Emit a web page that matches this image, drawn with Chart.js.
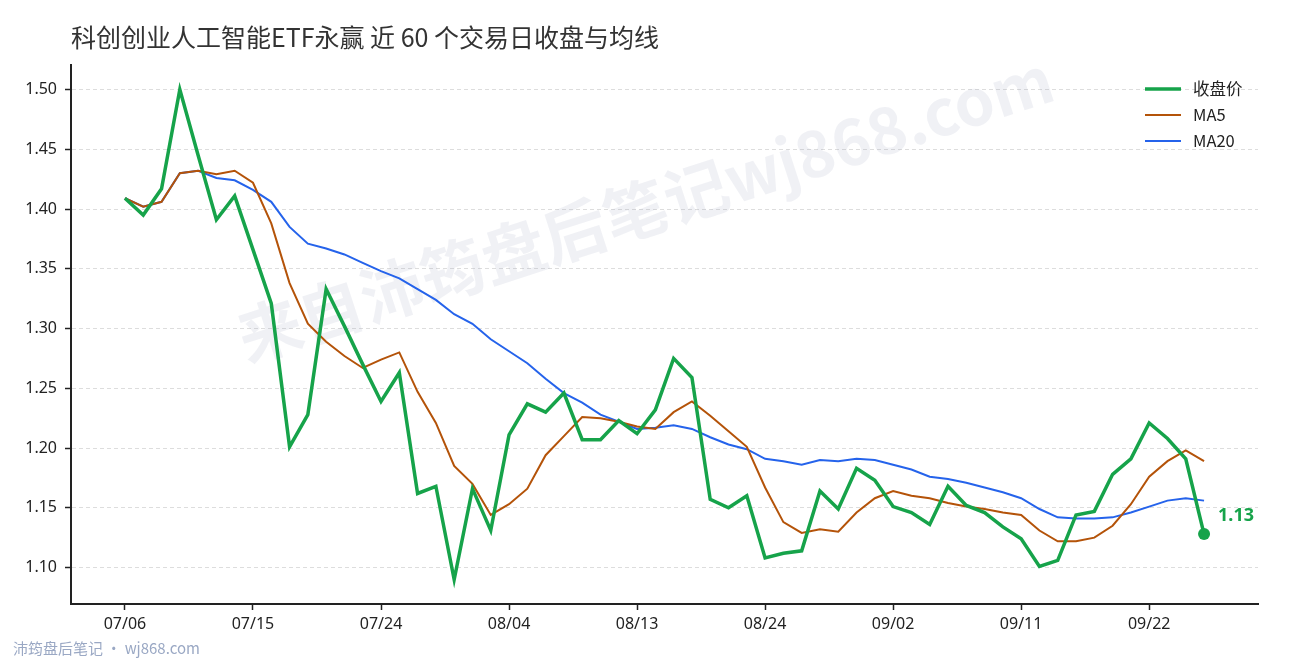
<!DOCTYPE html>
<html>
<head>
<meta charset="utf-8">
<script src="https://cdn.jsdelivr.net/npm/chart.js@4/dist/chart.umd.min.js"></script>
<style>
  html, body { margin: 0; padding: 0; background: #ffffff; }
  #wrap { position: relative; width: 1290px; height: 660px; }
  canvas { display: block; }
</style>
</head>
<body>
<div id="wrap"><canvas id="c" width="1290" height="660"></canvas></div>
<script>
// ---- data ----
const dates = ["07/06","07/07","07/08","07/09","07/10","07/13","07/14","07/15","07/16","07/17",
  "07/20","07/21","07/22","07/23","07/24","07/27","07/28","07/29","07/30","07/31",
  "08/03","08/04","08/05","08/06","08/07","08/10","08/11","08/12","08/13","08/14",
  "08/17","08/18","08/19","08/20","08/21","08/24","08/25","08/26","08/27","08/28",
  "08/31","09/01","09/02","09/03","09/04","09/07","09/08","09/09","09/10","09/11",
  "09/14","09/15","09/16","09/17","09/18","09/21","09/22","09/23","09/24","09/25"];
const closePrice = [1.409,1.395,1.417,1.500,1.445,1.391,1.411,1.366,1.321,1.201,
  1.228,1.333,1.302,1.270,1.239,1.263,1.162,1.168,1.090,1.166,
  1.131,1.211,1.237,1.230,1.246,1.207,1.207,1.223,1.212,1.232,
  1.275,1.259,1.157,1.150,1.160,1.108,1.112,1.114,1.164,1.149,
  1.183,1.173,1.151,1.146,1.136,1.168,1.152,1.146,1.134,1.124,
  1.101,1.106,1.144,1.147,1.178,1.191,1.221,1.208,1.191,1.128];
const ma5 = [1.409,1.402,1.406,1.430,1.432,1.429,1.432,1.422,1.388,1.338,
  1.304,1.289,1.277,1.267,1.274,1.280,1.247,1.221,1.185,1.170,
  1.144,1.153,1.166,1.194,1.210,1.226,1.225,1.222,1.218,1.216,
  1.230,1.239,1.227,1.214,1.201,1.167,1.138,1.129,1.132,1.130,
  1.146,1.158,1.164,1.160,1.158,1.154,1.151,1.149,1.146,1.144,
  1.131,1.122,1.122,1.125,1.135,1.153,1.176,1.189,1.198,1.189];
const ma20 = [1.409,1.402,1.406,1.430,1.432,1.426,1.424,1.416,1.406,1.385,
  1.371,1.367,1.362,1.355,1.348,1.342,1.333,1.324,1.312,1.304,
  1.291,1.281,1.271,1.258,1.246,1.238,1.228,1.222,1.216,1.217,
  1.219,1.216,1.209,1.203,1.199,1.191,1.189,1.186,1.190,1.189,
  1.191,1.190,1.186,1.182,1.176,1.174,1.171,1.167,1.163,1.158,
  1.149,1.142,1.141,1.141,1.142,1.146,1.151,1.156,1.158,1.156];
const yTicks = [1.10,1.15,1.20,1.25,1.30,1.35,1.40,1.45,1.50];
const xTickIdx = [0,7,14,21,28,35,42,49,56];
const seriesNames = ["收盘价","MA5","MA20"];
const titleText = "科创创业人工智能ETF永赢 近 60 个交易日收盘与均线";
const watermarkText = "来自沛筠盘后笔记wj868.com";
const footerText = "沛筠盘后笔记 · wj868.com";

// ---- styles ----
const GREEN = "#16a34a", ORANGE = "#b45309", BLUE = "#2563eb";
const FONT = "'Noto Sans', 'Noto Sans CJK SC', sans-serif";
const CJK = "'Noto Sans CJK SC', 'Noto Sans', sans-serif";

const toPts = arr => arr.map((v, i) => ({ x: i, y: v }));
const lastIdx = closePrice.length - 1;

const decor = {
  id: "decor",
  beforeDatasetsDraw(chart) {
    const ctx = chart.ctx;
    ctx.save();
    ctx.translate(645, 208);
    ctx.rotate(-18 * Math.PI / 180);
    ctx.font = "bold 64px " + CJK;
    ctx.fillStyle = "rgba(160,168,195,0.16)";
    ctx.textAlign = "center";
    ctx.textBaseline = "middle";
    ctx.fillText(watermarkText, 0, 0);
    ctx.restore();
  },
  afterDraw(chart) {
    const ctx = chart.ctx;
    const xs = chart.scales.x, ys = chart.scales.y;
    ctx.save();
    // title
    ctx.font = "25px " + CJK;
    ctx.fillStyle = "#333333";
    ctx.textAlign = "left";
    ctx.textBaseline = "middle";
    ctx.fillText(titleText, 71, 37);
    // footer
    ctx.font = "15px " + CJK;
    ctx.fillStyle = "#9aa8c4";
    ctx.fillText(footerText, 13, 648);
    // legend
    const cols = [GREEN, ORANGE, BLUE], widths = [3.5, 2, 2];
    ctx.font = "16.5px " + CJK;
    chart.data.datasets.forEach((ds, k) => {
      const y = 89 + k * 26;
      ctx.strokeStyle = cols[k];
      ctx.lineWidth = widths[k];
      ctx.beginPath();
      ctx.moveTo(1145, y);
      ctx.lineTo(1181, y);
      ctx.stroke();
      ctx.fillStyle = "#222222";
      ctx.fillText(ds.label, 1193, y);
    });
    // end label
    const px = xs.getPixelForValue(lastIdx), py = ys.getPixelForValue(closePrice[lastIdx]);
    ctx.font = "bold 18px " + FONT;
    ctx.fillStyle = GREEN;
    ctx.fillText(closePrice[lastIdx].toFixed(2), px + 14, py - 18);
    ctx.restore();
  }
};

new Chart(document.getElementById("c"), {
  type: "line",
  data: {
    datasets: [
      { label: seriesNames[0], data: toPts(closePrice), borderColor: GREEN, backgroundColor: GREEN,
        borderWidth: 3.5, tension: 0, order: 1,
        pointRadius: c => c.dataIndex === lastIdx ? 6 : 0, pointHoverRadius: 0,
        pointBackgroundColor: GREEN, pointBorderWidth: 0 },
      { label: seriesNames[1], data: toPts(ma5), borderColor: ORANGE, borderWidth: 2, tension: 0,
        pointRadius: 0, order: 2 },
      { label: seriesNames[2], data: toPts(ma20), borderColor: BLUE, borderWidth: 2, tension: 0,
        pointRadius: 0, order: 3 }
    ]
  },
  options: {
    responsive: false,
    devicePixelRatio: 1,
    animation: false,
    events: [],
    layout: { padding: { left: 0, top: 65, right: 32, bottom: 0 } },
    plugins: { legend: { display: false }, title: { display: false }, tooltip: { enabled: false } },
    scales: {
      x: {
        type: "linear",
        min: -2.95, max: lastIdx + 2.95,
        afterBuildTicks: s => { s.ticks = xTickIdx.map(v => ({ value: v })); },
        afterFit: s => { s.height = 56; },
        ticks: { callback: v => dates[v], font: { size: 16, family: FONT }, color: "#222222",
                 padding: 5, maxRotation: 0, autoSkip: false },
        grid: { drawOnChartArea: false, drawTicks: true, tickLength: 6, tickColor: "#222222", tickWidth: 1.5 },
        border: { display: true, color: "#222222", width: 2 }
      },
      y: {
        min: 1.0695, max: 1.5205,
        afterBuildTicks: s => { s.ticks = yTicks.map(v => ({ value: v })); },
        afterFit: s => { s.width = 71; },
        ticks: { callback: v => v.toFixed(2), font: { size: 16, family: FONT }, color: "#222222", padding: 8 },
        grid: { color: "#dddddd", lineWidth: 1, drawTicks: true, tickLength: 6, tickColor: "#222222",
                tickWidth: 1.5, tickBorderDash: [] },
        border: { display: true, color: "#222222", width: 2, dash: [4, 3] }
      }
    }
  },
  plugins: [decor]
});
</script>
</body>
</html>
